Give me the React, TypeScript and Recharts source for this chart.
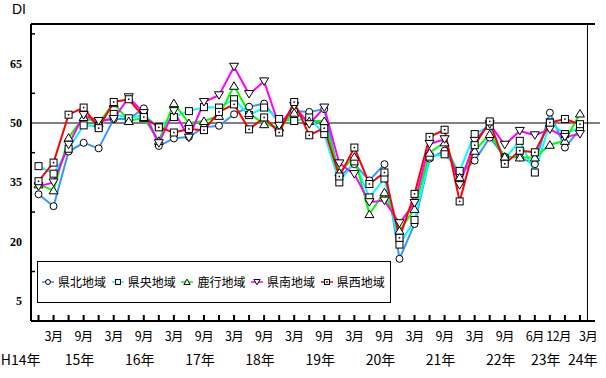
import React from 'react';
import { LineChart, Line, XAxis, YAxis, ReferenceLine, ReferenceArea, Legend } from 'recharts';

const monthLabels = ['', '3月', '', '9月', '', '3月', '', '9月', '', '3月', '', '9月', '', '3月', '', '9月', '', '3月', '', '9月', '', '3月', '', '9月', '', '3月', '', '9月', '', '3月', '', '9月', '', '6月', '', '12月', '3月'];
const yearLabels = ['H14年', '', '15年', '', '', '', '16年', '', '', '', '17年', '', '', '', '18年', '', '', '', '19年', '', '', '', '20年', '', '', '', '21年', '', '', '', '22年', '', '', '23年', '', '', '24年'];

const kenpoku = [32.0, 29.0, 42.8, 45.0, 43.6, 51.0, 51.0, 53.7, 44.2, 46.1, 46.5, 48.9, 49.3, 52.2, 54.1, 54.9, 50.1, 53.0, 52.8, 53.5, 36.5, 39.6, 35.5, 39.6, 15.7, 24.5, 41.0, 43.0, 37.0, 40.5, 46.3, 41.5, 41.3, 39.6, 52.6, 43.8, 48.4];
const kenou = [39.1, 37.2, 43.5, 49.4, 49.3, 52.3, 51.2, 52.0, 49.0, 51.5, 53.0, 54.0, 53.9, 56.0, 52.0, 53.9, 51.0, 50.5, 51.4, 47.2, 35.0, 40.3, 31.2, 36.0, 19.3, 25.5, 41.5, 42.1, 37.9, 47.2, 49.3, 41.0, 45.5, 37.5, 50.1, 47.2, 48.9];
const rokko = [34.5, 33.0, 46.3, 51.5, 50.0, 55.0, 50.5, 51.3, 45.5, 55.0, 50.0, 50.5, 51.8, 59.4, 52.5, 49.7, 48.9, 52.6, 50.5, 50.5, 37.5, 41.5, 27.0, 32.5, 22.8, 28.3, 42.5, 45.1, 36.3, 43.0, 47.2, 41.5, 41.3, 41.3, 44.5, 45.5, 52.4];
const kennan = [34.0, 35.0, 44.5, 52.0, 50.5, 51.0, 56.5, 52.5, 44.9, 53.0, 46.3, 55.3, 57.0, 64.2, 57.3, 60.5, 49.3, 54.3, 49.7, 53.9, 39.8, 37.1, 30.0, 30.4, 24.7, 29.8, 44.7, 45.9, 34.3, 45.5, 49.7, 44.5, 48.0, 46.9, 48.4, 46.5, 47.2];
const kensei = [35.3, 40.0, 52.1, 53.9, 48.7, 55.3, 56.0, 51.5, 48.9, 47.6, 48.5, 48.2, 52.8, 54.7, 48.4, 51.4, 47.6, 55.3, 46.9, 48.7, 36.5, 43.8, 34.6, 37.5, 21.0, 32.1, 46.5, 48.3, 30.2, 44.4, 50.4, 39.7, 43.0, 42.6, 50.1, 51.0, 49.7];

const seriesNames = ['県北地域', '県央地域', '鹿行地域', '県南地域', '県西地域'];
const seriesKeys = ['kenpoku', 'kenou', 'rokko', 'kennan', 'kensei'];
const seriesColors = ['#3399FF', '#00FFFF', '#00FF00', '#FF00FF', '#FF0000'];
const seriesShapes = ['circle', 'square', 'triangle', 'invTriangle', 'dotSquare'];

const yTicks = [5, 12.5, 20, 27.5, 35, 42.5, 50, 57.5, 65, 72.5];
const yLabelled = [5, 20, 35, 50, 65];

const data = monthLabels.map((m, i) => ({
  idx: i,
  kenpoku: kenpoku[i],
  kenou: kenou[i],
  rokko: rokko[i],
  kennan: kennan[i],
  kensei: kensei[i],
}));
const xTicks = monthLabels.map((_, i) => i);

const JP = '"Noto Sans CJK JP", "Noto Sans", sans-serif';

function Marker({ shape, cx, cy, s = 1 }: { shape: string; cx: number; cy: number; s?: number }) {
  const st = { fill: '#fff', stroke: '#000', strokeWidth: 1 };
  if (shape === 'circle') return <circle cx={cx} cy={cy} r={3.5 * s} {...st} />;
  if (shape === 'square') return <rect x={cx - 3.5 * s} y={cy - 3.5 * s} width={7 * s} height={7 * s} {...st} />;
  if (shape === 'dotSquare')
    return (
      <g>
        <rect x={cx - 3.5 * s} y={cy - 3.5 * s} width={7 * s} height={7 * s} {...st} />
        <rect x={cx - 0.75} y={cy - 0.75} width={1.5} height={1.5} fill="#000" />
      </g>
    );
  if (shape === 'triangle')
    return <polygon points={`${cx},${cy - 4 * s} ${cx - 4.5 * s},${cy + 3.5 * s} ${cx + 4.5 * s},${cy + 3.5 * s}`} {...st} />;
  return <polygon points={`${cx - 4.5 * s},${cy - 3.5 * s} ${cx + 4.5 * s},${cy - 3.5 * s} ${cx},${cy + 4 * s}`} {...st} />;
}

const makeDot = (shape: string) => (props: any) => {
  const { cx, cy, index } = props;
  if (cx == null || cy == null) return <g key={`d-${shape}-${index}`} />;
  return (
    <g key={`d-${shape}-${index}`}>
      <Marker shape={shape} cx={cx} cy={cy} />
    </g>
  );
};

const XTick = (props: any) => {
  const { x, y, payload } = props;
  const i = Number(payload.value);
  const last = monthLabels.length - 1;
  const m = monthLabels[i];
  const yr = yearLabels[i];
  const prevHas = i > 0 && monthLabels[i - 1] !== '';
  const nextHas = i < last && monthLabels[i + 1] !== '';
  let mAnchor: any = 'middle';
  let mx = x;
  if (nextHas) {
    mAnchor = 'end';
    mx = x + 6;
  } else if (prevHas) {
    mAnchor = 'start';
    mx = x - 1;
  }
  let yAnchor: any = 'middle';
  let yx = x + 11;
  if (i === 0) {
    yAnchor = 'end';
    yx = x + 2;
  } else if (i === last) {
    yAnchor = 'start';
    yx = x - 12;
  }
  return (
    <g>
      <line x1={x} y1={y} x2={x} y2={y - 6} stroke="#000" strokeWidth={2} />
      {m ? (
        <text x={mx} y={y + 20} textAnchor={mAnchor} fontSize={12.5} letterSpacing={-0.6} fontFamily={JP} fill="#000">
          {m}
        </text>
      ) : null}
      {yr ? (
        <text x={yx} y={y + 44} textAnchor={yAnchor} fontSize={14} fontFamily={JP} fill="#000">
          {yr}
        </text>
      ) : null}
    </g>
  );
};

const YTick = (props: any) => {
  const { x, y, payload } = props;
  const v = Number(payload.value);
  if (yLabelled.includes(v)) {
    return (
      <text x={x - 9} y={y} textAnchor="end" dominantBaseline="central" fontSize={12} fontWeight="bold" fontFamily='"Liberation Serif", serif' fill="#000">
        {v}
      </text>
    );
  }
  return <line x1={x} y1={y} x2={x + 4} y2={y} stroke="#000" strokeWidth={1.5} />;
};

const LegendBox = () => (
  <div
    style={{
      width: 354,
      height: 42,
      boxSizing: 'border-box',
      border: '1px solid #000',
      background: '#fff',
      display: 'flex',
      alignItems: 'center',
      paddingLeft: 4,
      fontFamily: JP,
      fontSize: 12,
      color: '#000',
    }}
  >
    {seriesNames.map((n, i) => (
      <div key={n} style={{ width: 69.7, display: 'flex', alignItems: 'center', flexShrink: 0 }}>
        <svg width={12} height={10} style={{ display: 'block' }}>
          <line x1={0} y1={5} x2={12} y2={5} stroke={seriesColors[i]} strokeWidth={1.5} />
          <Marker shape={seriesShapes[i]} cx={6} cy={5} s={0.7} />
        </svg>
        <span style={{ marginLeft: 4, whiteSpace: 'nowrap', lineHeight: '14px' }}>{n}</span>
      </div>
    ))}
  </div>
);

export default function App() {
  return (
    <div style={{ position: 'absolute', left: 0, top: 0, width: 606, height: 378, background: '#fff' }}>
      <div style={{ position: 'absolute', left: 12, top: 1, fontFamily: '"Liberation Sans", Arial, sans-serif', fontSize: 14, lineHeight: '16px', color: '#000' }}>
        DI
      </div>
      <LineChart width={606} height={378} data={data} margin={{ top: 24, right: 11, left: 0, bottom: 0 }}>
        <ReferenceArea x1={-0.5} x2={36.5} y1={0} y2={75} fill="none" fillOpacity={0} stroke="#000" strokeWidth={1} />
        <XAxis
          dataKey="idx"
          type="number"
          domain={[-0.5, 36.5]}
          ticks={xTicks}
          interval={0}
          height={57}
          tickSize={0}
          tickMargin={0}
          tickLine={false}
          tick={<XTick />}
          axisLine={{ stroke: '#000', strokeWidth: 2 }}
          allowDecimals={false}
        />
        <YAxis
          domain={[0, 75]}
          ticks={yTicks}
          interval={0}
          width={31}
          tickSize={0}
          tickMargin={0}
          tickLine={false}
          tick={<YTick />}
          axisLine={{ stroke: '#000', strokeWidth: 2 }}
        />
        <ReferenceLine y={75} stroke="#000" strokeWidth={2} />
        <ReferenceLine
          y={50}
          shape={(p: any) => <line x1={p.x1} y1={p.y1} x2={p.x2 + 5} y2={p.y2} stroke="#000" strokeWidth={1} />}
        />
        {seriesKeys.map((k, i) => (
          <Line
            key={k}
            dataKey={k}
            name={seriesNames[i]}
            type="linear"
            stroke={seriesColors[i]}
            strokeWidth={2}
            dot={makeDot(seriesShapes[i])}
            activeDot={false}
            isAnimationActive={false}
          />
        ))}
        <Legend
          layout="horizontal"
          verticalAlign="middle"
          align="center"
          content={() => <LegendBox />}
          wrapperStyle={{ position: 'absolute', left: 37, top: 261, width: 354, height: 42 }}
        />
      </LineChart>
    </div>
  );
}
